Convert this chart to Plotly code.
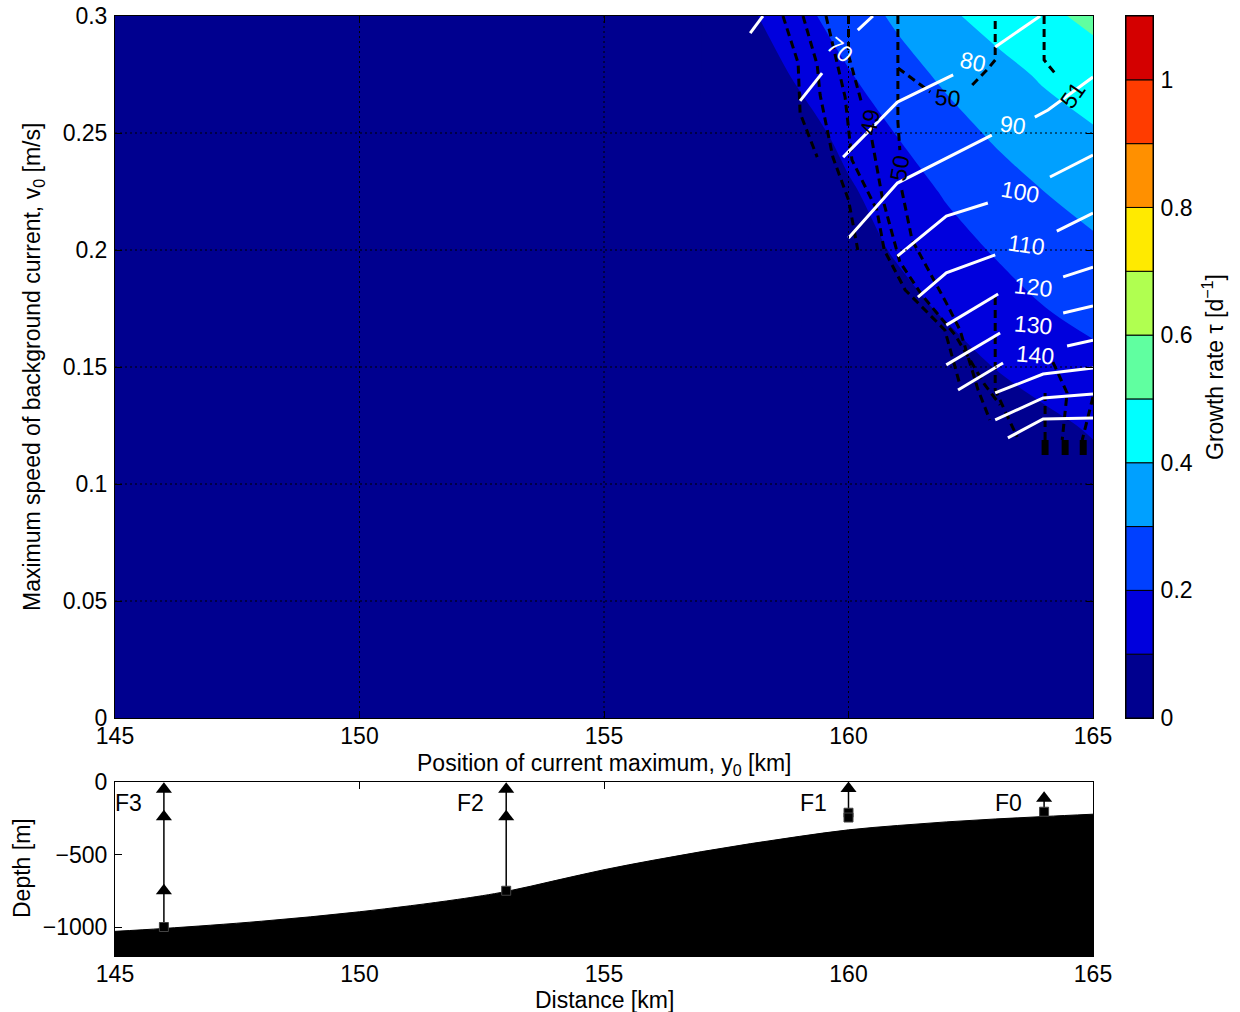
import plotly.graph_objects as go

FONT = "Liberation Sans, Arial, Helvetica, sans-serif"
FS = 23

# ---------------- growth-rate field (upper panel) ----------------
position_km = list(range(145, 166))                      # y0 [km]
speed_ms = [0.0, 0.025, 0.05, 0.075, 0.1, 0.125, 0.15,
            0.175, 0.2, 0.225, 0.25, 0.275, 0.3]         # v0 [m/s]

# growth rate [1/d] for y0 = 157..165 km; it is zero for y0 <= 156 km
growth_east = [
    [0, 0, 0, 0, 0, 0, 0, 0, 0],                                   # 0.000
    [0, 0, 0, 0, 0, 0, 0, 0, 0],                                   # 0.025
    [0, 0, 0, 0, 0, 0, 0, 0, 0.01],                                # 0.050
    [0, 0, 0, 0, 0, 0, 0.01, 0.02, 0.03],                          # 0.075
    [0, 0, 0, 0, 0, 0.01, 0.025, 0.045, 0.068],                    # 0.100
    [0, 0, 0, 0, 0.01, 0.03, 0.05, 0.08, 0.11],                    # 0.125
    [0, 0, 0, 0.01, 0.03, 0.059, 0.102, 0.135, 0.165],             # 0.150
    [0, 0, 0, 0.03, 0.068, 0.112, 0.155, 0.198, 0.238],            # 0.175
    [0, 0, 0.01, 0.06, 0.11, 0.161, 0.208, 0.247, 0.278],          # 0.200
    [0, 0, 0.03, 0.087, 0.151, 0.21, 0.255, 0.30, 0.345],          # 0.225
    [0, 0.02, 0.058, 0.132, 0.204, 0.261, 0.314, 0.356, 0.39],     # 0.250
    [0, 0.04, 0.116, 0.194, 0.26, 0.319, 0.366, 0.413, 0.459],     # 0.275
    [0, 0.087, 0.173, 0.248, 0.317, 0.384, 0.435, 0.482, 0.52],    # 0.300
]
n_west = 12  # columns 145..156 km
growth = [[0.0] * n_west + row for row in growth_east]

# colour bands of the growth rate (0 .. 1.1 in steps of 0.1)
band_edges = [0.0, 0.1, 0.2, 0.3, 0.4, 0.5, 0.6, 0.7, 0.8, 0.9, 1.0, 1.1]
band_colors = ["#00008F", "#0000DD", "#0040FF", "#00A0FF", "#00FFFF", "#60FFA0",
               "#B0FF50", "#FFEA00", "#FF9000", "#FF3C00", "#D40000"]
colorbar_ticks = [0, 0.2, 0.4, 0.6, 0.8, 1.0]

# white isolines (labelled levels); None marks the gap left for a label
white_levels = [60, 70, 80, 90, 100, 110, 120, 130, 140, 150, 160, 170]
white_x = [
    [157.99, 158.25],
    [159.01, 159.46, None, 160.19, 160.50],
    [159.89, 161.0, 162.14, None, 163.0, 163.92],
    [160.0, 161.0, 162.93, None, 163.81, 164.08, 165.0],
    [161.0, 162.0, 162.85, None, 164.12, 165.0],
    [161.42, 162.0, 163.0, None, 164.26, 165.0],
    [162.0, 163.06, None, 164.39, 165.0],
    [162.0, 163.10, None, 164.39, 165.0],
    [162.24, 163.16, None, 164.47, 165.0],
    [163.0, 163.98, 165.0],
    [163.0, 163.98, 165.0],
    [163.26, 163.98, 165.0],
]
white_y = [
    [0.2927, 0.300],
    [0.2637, 0.2756, None, 0.294, 0.300],
    [0.2397, 0.2632, 0.2748, None, 0.2868, 0.300],
    [0.2051, 0.2286, 0.2491, None, 0.2568, 0.2598, 0.2739],
    [0.1974, 0.2145, 0.2201, None, 0.2312, 0.2406],
    [0.1799, 0.1902, 0.1979, None, 0.2081, 0.2158],
    [0.1679, 0.1812, None, 0.1885, 0.1927],
    [0.1509, 0.1645, None, 0.1731, 0.1761],
    [0.1402, 0.1517, None, 0.1590, 0.1615],
    [0.1389, 0.1470, 0.1496],
    [0.1274, 0.1368, 0.1385],
    [0.1197, 0.1278, 0.1282],
]
white_label_text = ["70", "80", "90", "100", "110", "120", "130", "140"]
white_label_x = [159.83, 162.55, 163.36, 163.51, 163.65, 163.77, 163.77, 163.81]
white_label_y = [0.2855, 0.2803, 0.2534, 0.2248, 0.2021, 0.1842, 0.1679, 0.1551]
white_label_angle = [40, 12, 8, 10, 8, 6, 5, 5]

# black dashed isolines
black_x = [
    [158.66, 158.97, 159.01, 159.36],
    [159.07, 159.36, 159.42, 159.68, 160.0, 160.19],
    [159.54, 159.93, 160.07, 160.58, 160.73, 161.16, 161.97, 162.28],
    [160.0, 160.0, 160.28, None, 160.48, 160.69, 161.05, 161.50, 162.18, 162.79, 163.10],
    [161.01, 161.01, 161.67, None, 162.53, 162.85, 163.0, 163.0],
    [161.01, 161.01, 161.05, None, 161.09, 161.30, 162.0, 162.28, 162.65, 162.89],
    [163.0, 163.0, 163.45],
    [164.02, 164.02],
    [164.18, 164.47, 164.37],
    [165.0, 164.78],
    [164.0, 164.0, 164.22],
]
black_y = [
    [0.300, 0.2799, 0.2585, 0.2397],
    [0.300, 0.2791, 0.2662, 0.2397, 0.2214, 0.2000],
    [0.300, 0.2654, 0.2385, 0.2171, 0.2000, 0.1829, 0.1658, 0.1423],
    [0.300, 0.2833, 0.2620, None, 0.2470, 0.2226, 0.1949, 0.1808, 0.1637, 0.1423, 0.1338],
    [0.300, 0.2778, 0.2675, None, 0.2705, 0.2774, 0.2812, 0.300],
    [0.2778, 0.2547, 0.2427, None, 0.2256, 0.2043, 0.1774, 0.1658, 0.1402, 0.1274],
    [0.1799, 0.1402, 0.1201],
    [0.1389, 0.1188],
    [0.1521, 0.1389, 0.1188],
    [0.1372, 0.1188],
    [0.300, 0.2812, 0.2756],
]
# clusters of dense dashes at the lower end of the isolines
cluster_x = [164.02, 164.43, 164.80]
cluster_top = 0.1188
cluster_bottom = 0.1124

black_label_text = ["49", "50", "50", "51"]
black_label_x = [160.44, 161.05, 162.03, 164.59]
black_label_y = [0.2547, 0.2350, 0.2650, 0.2662]
black_label_angle = [-80, -80, 5, -55]

# ---------------- bathymetry and moorings (lower panel) ----------------
distance_km = [145, 146, 148, 150, 152, 153, 154, 155, 156, 157,
               158, 159, 160, 161, 162, 163, 164, 165]
bottom_depth_m = [-1030, -1010, -960, -895, -810, -755, -680, -605, -540, -480,
                  -425, -375, -330, -300, -275, -255, -238, -222]
depth_floor = -1200

mooring_names = ["F3", "F2", "F1", "F0"]
mooring_km = [146, 153, 160, 164]
instrument_depths = [[-50, -240, -750], [-50, -240], [-45], [-112]]
anchor_depths = [[-1000], [-750], [-212, -245], [-205]]

# ---------------- figure ----------------
W, H = 1240, 1012
def px_x(p):
    return p / W
def px_y(p):
    return 1 - p / H

main_x = [px_x(115), px_x(1093)]
main_y = [px_y(718), px_y(16)]
cbar_x = [px_x(1126), px_x(1153)]
low_y = [px_y(956), px_y(782)]

fig = go.Figure()

band_scale = []
nb = len(band_colors)
for k, c in enumerate(band_colors):
    band_scale.append([k / nb, c])
    band_scale.append([(k + 1) / nb, c])

fig.add_trace(go.Contour(
    x=position_km, y=speed_ms, z=growth,
    zmin=band_edges[0], zmax=band_edges[-1],
    contours=dict(start=band_edges[0], end=band_edges[-1], size=0.1,
                  coloring="fill", showlines=False),
    colorscale=band_scale, showscale=False,
    line=dict(width=0, smoothing=1.0),
    hoverinfo="skip", xaxis="x", yaxis="y"))

for xs, ys in zip(black_x, black_y):
    fig.add_trace(go.Scatter(
        x=xs, y=ys, mode="lines", connectgaps=False,
        line=dict(color="black", width=3, dash="8px,5px"),
        hoverinfo="skip", showlegend=False, xaxis="x", yaxis="y"))

for cx in cluster_x:
    fig.add_trace(go.Scatter(
        x=[cx, cx], y=[cluster_top, cluster_bottom], mode="lines",
        line=dict(color="black", width=7),
        hoverinfo="skip", showlegend=False, xaxis="x", yaxis="y"))

for lev, xs, ys in zip(white_levels, white_x, white_y):
    fig.add_trace(go.Scatter(
        x=xs, y=ys, mode="lines", connectgaps=False, name=str(lev),
        line=dict(color="white", width=3),
        hoverinfo="skip", showlegend=False, xaxis="x", yaxis="y"))

# colour bar built from the band edges
fig.add_trace(go.Bar(
    x=[0] * nb, y=[band_edges[k + 1] - band_edges[k] for k in range(nb)],
    base=band_edges[:-1], width=1.0,
    marker=dict(color=band_colors, line=dict(color="black", width=1)),
    hoverinfo="skip", showlegend=False, xaxis="x2", yaxis="y2"))

# lower panel: sea floor
fig.add_trace(go.Scatter(
    x=[distance_km[0], distance_km[-1]], y=[depth_floor, depth_floor],
    mode="lines", line=dict(width=0, color="black"),
    hoverinfo="skip", showlegend=False, xaxis="x3", yaxis="y3"))
fig.add_trace(go.Scatter(
    x=distance_km, y=bottom_depth_m, mode="lines", fill="tonexty",
    fillcolor="black", line=dict(color="black", width=1, shape="spline"),
    hoverinfo="skip", showlegend=False, xaxis="x3", yaxis="y3"))

for name, xm, inst, anch in zip(mooring_names, mooring_km, instrument_depths, anchor_depths):
    fig.add_trace(go.Scatter(
        x=[xm, xm], y=[inst[0], anch[-1]], mode="lines",
        line=dict(color="black", width=1.5),
        hoverinfo="skip", showlegend=False, xaxis="x3", yaxis="y3"))
    fig.add_trace(go.Scatter(
        x=[xm] * len(inst), y=inst, mode="markers",
        marker=dict(symbol="triangle-up", size=14, color="black"),
        cliponaxis=False, hoverinfo="skip", showlegend=False, xaxis="x3", yaxis="y3"))
    fig.add_trace(go.Scatter(
        x=[xm] * len(anch), y=anch, mode="markers",
        marker=dict(symbol="square", size=9, color="black",
                    line=dict(color="#444", width=1)),
        hoverinfo="skip", showlegend=False, xaxis="x3", yaxis="y3"))

tick_font = dict(family=FONT, size=FS, color="black")
axis_common = dict(showline=True, linecolor="black", linewidth=1, mirror="ticks",
                   ticks="inside", ticklen=7, tickcolor="black", showgrid=False,
                   zeroline=False, tickfont=tick_font, automargin=False)

fig.update_layout(
    template="none",
    width=W, height=H, margin=dict(l=0, r=0, t=0, b=0, pad=0),
    paper_bgcolor="white", plot_bgcolor="white",
    showlegend=False, barmode="overlay",
    font=dict(family=FONT, size=FS, color="black"),
    xaxis=dict(domain=main_x, anchor="y", range=[145, 165],
               tickvals=[145, 150, 155, 160, 165], ticklabelstandoff=-3, **axis_common),
    yaxis=dict(domain=main_y, anchor="x", range=[0, 0.3],
               tickvals=[0, 0.05, 0.1, 0.15, 0.2, 0.25, 0.3], ticklabelstandoff=2,
               **axis_common),
    xaxis2=dict(domain=cbar_x, anchor="y2", range=[-0.5, 0.5], showticklabels=False,
                showline=True, linecolor="black", mirror=True, ticks="",
                showgrid=False, zeroline=False, automargin=False),
    yaxis2=dict(domain=main_y, anchor="x2", range=[0, 1.1], side="right",
                tickvals=colorbar_ticks, ticks="", showline=True, linecolor="black",
                mirror=True, showgrid=False, zeroline=False, tickfont=tick_font,
                ticklabelstandoff=2, automargin=False),
    xaxis3=dict(domain=main_x, anchor="y3", range=[145, 165],
                tickvals=[145, 150, 155, 160, 165], ticklabelstandoff=-3, **axis_common),
    yaxis3=dict(domain=low_y, anchor="x3", range=[depth_floor, 0],
                tickvals=[-1000, -500, 0], ticktext=["\u22121000", "\u2212500", "0"],
                ticklabelstandoff=2, **axis_common),
)

# dotted grid over the upper panel
shapes = []
for gx in [150, 155, 160]:
    shapes.append(dict(type="line", xref="x", yref="y", x0=gx, x1=gx, y0=0, y1=0.3,
                       line=dict(color="black", width=1, dash="2px,3px"), layer="above"))
for gy in [0.05, 0.1, 0.15, 0.2, 0.25]:
    shapes.append(dict(type="line", xref="x", yref="y", x0=145, x1=165, y0=gy, y1=gy,
                       line=dict(color="black", width=1, dash="2px,3px"), layer="above"))
fig.update_layout(shapes=shapes)

ann = []
for t, x, y, a in zip(white_label_text, white_label_x, white_label_y, white_label_angle):
    ann.append(dict(text=t, x=x, y=y, xref="x", yref="y", showarrow=False,
                    xanchor="center", yanchor="middle",
                    textangle=a, font=dict(family=FONT, size=FS, color="white")))
for t, x, y, a in zip(black_label_text, black_label_x, black_label_y, black_label_angle):
    ann.append(dict(text=t, x=x, y=y, xref="x", yref="y", showarrow=False,
                    xanchor="center", yanchor="middle",
                    textangle=a, font=dict(family=FONT, size=FS, color="black")))
for name, xm in zip(mooring_names, mooring_km):
    ann.append(dict(text=name, x=xm, y=-145, xref="x3", yref="y3", showarrow=False,
                    xanchor="right", yanchor="middle", xshift=-20,
                    font=dict(family=FONT, size=FS)))

# axis titles
title_style = dict(xref="paper", yref="paper", showarrow=False,
                   xanchor="center", yanchor="middle", font=dict(family=FONT, size=FS))
ann += [
    dict(text="Position of current maximum, y<sub>0</sub> [km]",
         x=px_x(604), y=px_y(764), **title_style),
    dict(text="Maximum speed of background current, v<sub>0</sub> [m/s]",
         x=px_x(33), y=px_y(367), textangle=-90, **title_style),
    dict(text="Growth rate \u03c4 [d<sup>\u22121</sup>]",
         x=px_x(1213), y=px_y(367), textangle=-90, **title_style),
    dict(text="Distance [km]", x=px_x(604), y=px_y(1000), **title_style),
    dict(text="Depth [m]", x=px_x(22), y=px_y(868), textangle=-90, **title_style),
]
fig.update_layout(annotations=ann)

fig.write_html("out.html", config={"displayModeBar": False})
